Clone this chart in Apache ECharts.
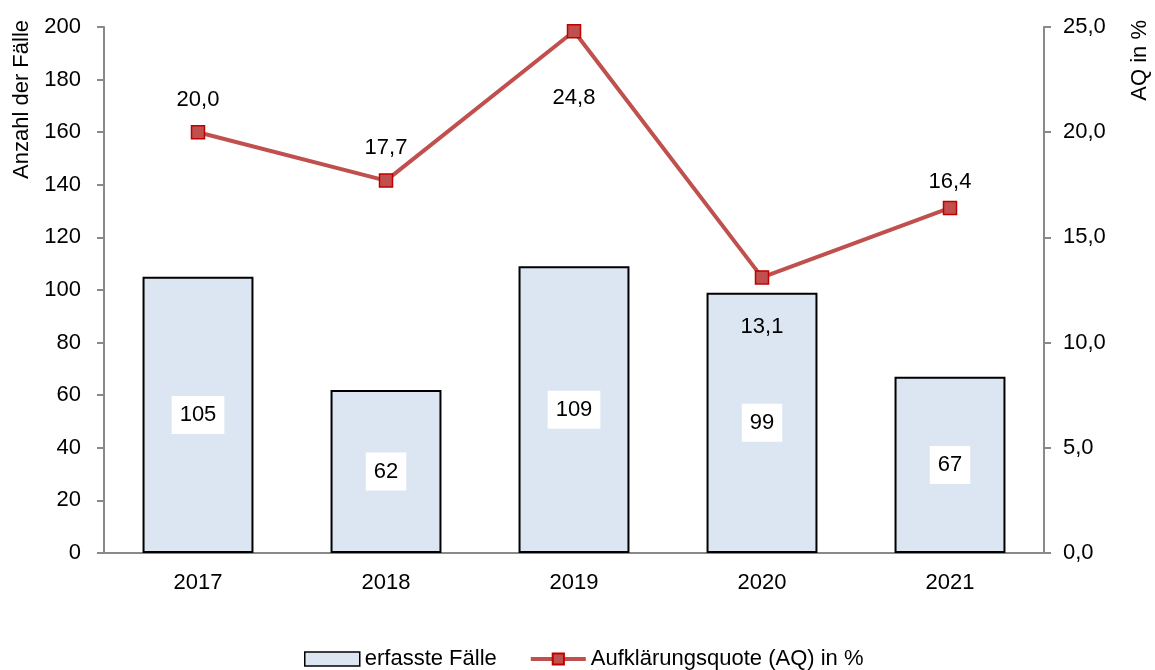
<!DOCTYPE html>
<html>
<head>
<meta charset="utf-8">
<script src="https://cdn.jsdelivr.net/npm/echarts@6/dist/echarts.min.js"></script>
<style>
  html, body { margin: 0; padding: 0; background: #fff; }
  #chart { width: 1155px; height: 670px; }
</style>
</head>
<body>
<div id="chart"></div>
<script>
// Fälle und Aufklärungsquote 2017-2021
const years = ['2017', '2018', '2019', '2020', '2021'];
const faelle = [105, 62, 109, 99, 67];
const quote = [20.0, 17.7, 24.8, 13.1, 16.4];
const leftTicks = { min: 0, max: 200, interval: 20 };
const rightTicks = { min: 0, max: 25, interval: 5 };

const FONT = '"Liberation Sans", Arial, sans-serif';
const FS = 22;
const komma = v => v.toFixed(1).replace('.', ',');

// label offsets per point (above / below the marker)
const labelPos = [
    { position: 'top', distance: 14 },
    { position: 'top', distance: 14 },
    { position: 'bottom', distance: 48 },
    { position: 'bottom', distance: 31 },
    { position: 'top', distance: 8 },
];

const chart = echarts.init(document.getElementById('chart'));

chart.setOption({
    animation: false,
    backgroundColor: '#fff',
    textStyle: { fontFamily: FONT },
    grid: { left: 104, right: 111, top: 27, bottom: 117 },
    legend: {
        bottom: -5,
        left: 299,
        itemWidth: 55,
        itemHeight: 14,
        itemGap: 32,
        textStyle: { fontFamily: FONT, fontSize: FS, color: '#000' },
        data: [
            { name: 'erfasste Fälle', icon: 'rect',
              itemStyle: { color: '#DCE6F2', borderColor: '#000', borderWidth: 1.5 } },
            { name: 'Aufklärungsquote (AQ) in %',
              lineStyle: { width: 4, color: '#C0504D' } },
        ],
    },
    graphic: [
        {
            type: 'text', x: 22, y: 20, rotation: Math.PI / 2,
            style: { text: 'Anzahl der Fälle', font: FS + 'px ' + FONT, fill: '#000',
                     textAlign: 'right', textVerticalAlign: 'middle' },
        },
        {
            type: 'text', x: 1140, y: 20, rotation: Math.PI / 2,
            style: { text: 'AQ in %', font: FS + 'px ' + FONT, fill: '#000',
                     textAlign: 'right', textVerticalAlign: 'middle' },
        },
    ],
    xAxis: {
        type: 'category',
        data: years,
        axisLine: { lineStyle: { color: '#898989', width: 2 } },
        axisTick: { length: 7, lineStyle: { color: '#898989', width: 2 } },
        axisLabel: { color: '#000', fontSize: FS, margin: 19 },
    },
    yAxis: [
        {
            type: 'value',
            min: leftTicks.min, max: leftTicks.max, interval: leftTicks.interval,
            axisLine: { show: true, lineStyle: { color: '#898989', width: 2 } },
            axisTick: { show: true, length: 7, lineStyle: { color: '#898989', width: 2 } },
            axisLabel: { color: '#000', fontSize: FS, margin: 23 },
            splitLine: { show: false },
        },
        {
            type: 'value',
            min: rightTicks.min, max: rightTicks.max, interval: rightTicks.interval,
            axisLine: { show: true, lineStyle: { color: '#898989', width: 2 } },
            axisTick: { show: true, length: 7, lineStyle: { color: '#898989', width: 2 } },
            axisLabel: { color: '#000', fontSize: FS, margin: 19, formatter: komma },
            splitLine: { show: false },
        },
    ],
    series: [
        {
            name: 'erfasste Fälle',
            type: 'bar',
            yAxisIndex: 0,
            barWidth: '59%',
            data: faelle,
            itemStyle: { color: '#DCE6F2', borderColor: '#000', borderWidth: 2 },
            label: {
                show: true,
                position: 'inside',
                color: '#000',
                fontSize: FS,
                backgroundColor: '#fff',
                padding: [9, 8, 7, 8],
            },
        },
        {
            name: 'Aufklärungsquote (AQ) in %',
            type: 'line',
            yAxisIndex: 1,
            data: quote.map((v, i) => ({ value: v, label: labelPos[i] })),
            symbol: 'rect',
            symbolSize: 13,
            lineStyle: { color: '#C0504D', width: 4 },
            itemStyle: { color: '#C0504D', borderColor: '#C00000', borderWidth: 1.5 },
            label: {
                show: true,
                color: '#000',
                fontSize: FS,
                formatter: p => komma(p.value),
            },
            z: 5,
        },
    ],
});
</script>
</body>
</html>
